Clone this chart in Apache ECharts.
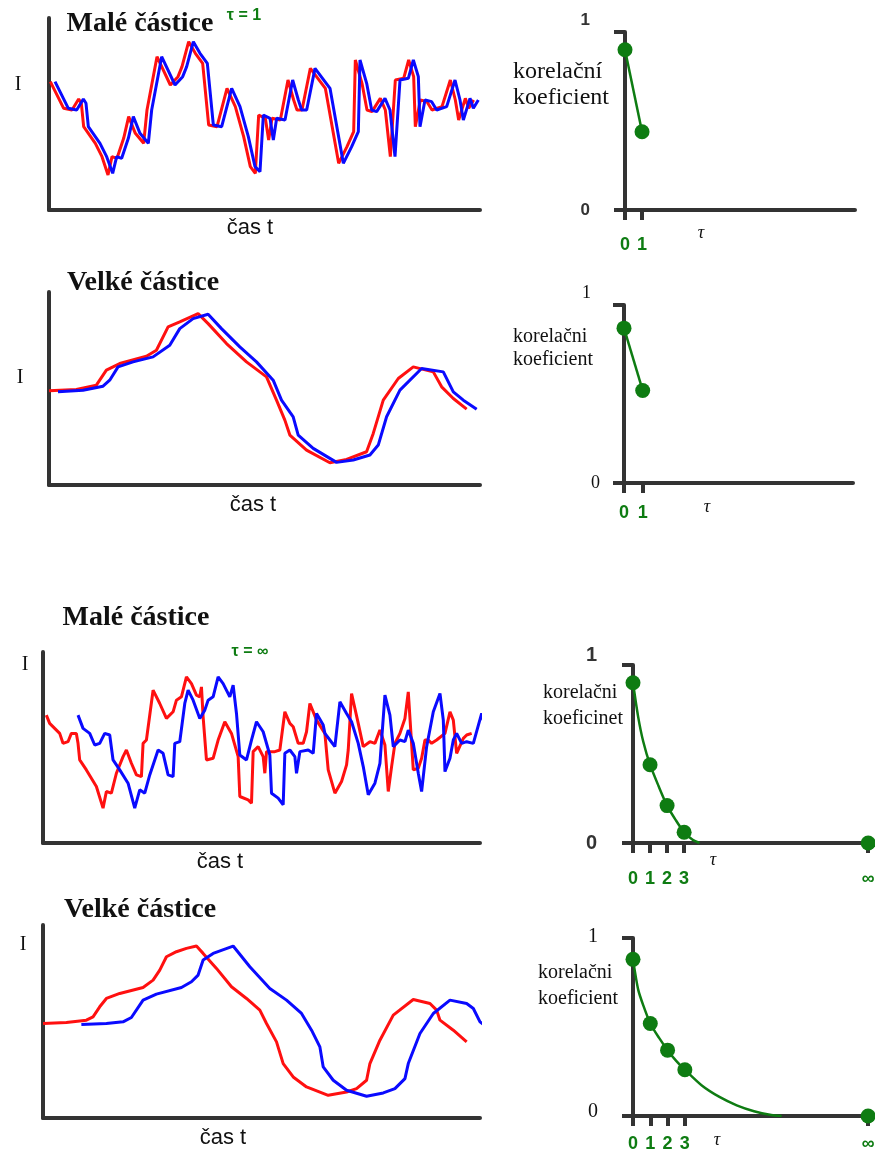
<!DOCTYPE html>
<html>
<head>
<meta charset="utf-8">
<title>korelace</title>
<script src="https://cdn.jsdelivr.net/npm/echarts@6/dist/echarts.min.js"></script>
<style>
  html, body { margin: 0; padding: 0; background: #fff; }
  #main { width: 875px; height: 1153px; }
</style>
</head>
<body>
<div id="main"></div>
<script>
// ---- data (time in arbitrary samples, I in arbitrary units) ----
// Malé částice, tau = 1
var small1Blue = [[18,385],[58,305],[83,300],[103,333],[111,320],[118,250],[153,200],[173,160],[191,110],[203,160],[218,155],[238,215],[253,280],[273,230],[298,200],[308,300],[338,460],[378,375],[401,400],[413,430],[433,505],[453,470],[475,440],[493,255],[518,250],[548,365],[573,310],[598,220],[618,130],[633,115],[643,285],[663,275],[673,210],[683,275],[708,270],[731,390],[748,330],[758,300],[773,300],[798,425],[843,365],[883,140],[908,190],[928,235],[933,450],[953,380],[968,300],[983,295],[1008,335],[1023,300],[1038,160],[1053,390],[1078,395],[1093,450],[1108,400],[1113,250],[1128,330],[1148,325],[1163,300],[1193,310],[1218,390],[1233,330],[1243,270],[1263,335],[1273,305],[1288,330]];
var small1Red = [[4,385],[44,305],[69,300],[89,333],[97,320],[104,250],[139,200],[159,160],[177,105],[189,160],[204,155],[224,215],[239,280],[259,230],[284,200],[294,300],[324,460],[364,375],[387,400],[399,430],[419,505],[439,470],[461,440],[479,255],[504,250],[534,365],[559,310],[584,220],[604,130],[619,110],[629,285],[649,275],[659,210],[669,275],[694,270],[717,390],[734,330],[744,300],[759,300],[784,425],[829,365],[869,140],[894,190],[914,235],[919,450],[939,380],[954,300],[969,295],[994,335],[1009,300],[1024,160],[1039,390],[1064,395],[1079,450],[1094,400],[1099,250],[1114,330],[1134,325],[1149,300],[1179,310],[1204,390],[1219,330],[1229,270],[1249,335],[1259,305],[1274,330]];

// Velké částice, tau = 1
var big1Red = [[0,283],[82,287],[142,300],[172,345],[212,365],[292,387],[322,405],[357,475],[392,490],[447,515],[477,485],[532,425],[592,370],[652,325],[682,255],[707,195],[722,150],[772,105],[842,67],[892,77],[952,100],[972,155],[1002,255],[1047,320],[1092,355],[1152,340],[1177,295],[1212,260],[1252,228]];
var big1Blue = [[27,280],[102,285],[162,297],[182,315],[207,355],[252,370],[312,385],[362,420],[392,470],[432,500],[477,513],[517,470],[572,415],[622,370],[672,315],[697,255],[732,205],[747,150],[792,110],[862,68],[912,75],[962,90],[987,120],[1012,205],[1052,285],[1117,350],[1182,340],[1212,280],[1242,255],[1282,228]];

// Malé částice, tau = inf
var smallInfRed = [[10,385],[20,360],[50,330],[60,300],[75,305],[85,330],[100,330],[105,300],[110,250],[130,220],[160,170],[180,105],[190,155],[205,150],[220,210],[240,260],[250,280],[265,240],[280,205],[295,200],[300,300],[310,310],[330,460],[350,420],[370,375],[390,395],[400,430],[415,440],[430,500],[445,480],[460,445],[470,440],[475,470],[480,380],[490,250],[510,255],[525,310],[545,365],[565,330],[585,260],[590,140],[615,130],[625,120],[630,275],[645,290],[660,260],[665,210],[670,275],[695,275],[710,280],[725,395],[740,360],[750,350],[765,300],[780,300],[790,335],[800,420],[820,370],[845,330],[855,220],[875,150],[895,185],[910,235],[915,280],[925,450],[945,360],[960,290],[980,305],[995,300],[1010,340],[1025,295],[1035,155],[1045,230],[1055,300],[1070,330],[1085,375],[1095,455],[1110,220],[1125,225],[1135,255],[1145,310],[1155,310],[1165,300],[1180,310],[1205,330],[1220,395],[1230,370],[1240,270],[1260,315],[1270,325],[1285,330]];
var smallInfBlue = [[105,385],[120,345],[140,330],[155,295],[170,300],[185,330],[200,325],[210,250],[230,220],[255,180],[275,105],[290,160],[305,150],[320,205],[345,280],[360,270],[375,205],[390,200],[395,300],[410,305],[425,420],[435,460],[450,430],[470,375],[485,400],[495,430],[510,440],[525,500],[540,480],[560,440],[570,475],[580,390],[590,265],[610,250],[625,310],[640,365],[660,335],[680,265],[685,150],[705,135],[720,115],[725,270],[740,280],[755,260],[760,210],[770,275],[795,280],[810,270],[820,390],[840,355],[845,330],[860,310],[875,290],[890,425],[910,390],[925,365],[945,300],[960,230],[975,145],[995,180],[1010,240],[1025,445],[1040,385],[1050,290],[1070,310],[1085,305],[1095,340],[1110,300],[1125,210],[1135,155],[1150,290],[1170,395],[1190,450],[1200,370],[1205,215],[1220,255],[1230,310],[1240,330],[1255,300],[1270,305],[1290,300],[1315,390],[1330,330],[1340,270],[1355,320],[1360,330],[1370,310],[1385,325]];

// Velké částice, tau = inf
var bigInfRed = [[0,283],[70,286],[130,293],[150,303],[170,333],[190,358],[230,373],[300,391],[330,413],[350,443],[370,483],[400,498],[430,508],[460,515],[480,493],[520,448],[565,393],[610,358],[650,323],[670,283],[700,228],[720,163],[750,123],[790,93],[855,68],[910,78],[940,88],[970,113],[980,163],[1010,233],[1050,308],[1110,355],[1160,343],[1180,323],[1190,293],[1230,263],[1270,228]];
var bigInfBlue = [[115,280],[190,283],[240,288],[265,301],[300,353],[340,371],[415,391],[445,408],[465,428],[480,473],[510,493],[570,515],[620,453],[680,388],[730,353],[775,313],[805,263],[830,213],[840,153],[870,113],[910,83],[970,65],[1020,75],[1055,88],[1085,118],[1095,163],[1130,253],[1170,313],[1220,353],[1270,343],[1290,328],[1310,288],[1350,258],[1385,233]];

// correlation coefficient vs tau (13.8 / 13.6 stands for infinity)
var corr1Small = [[0,0.90],[1,0.44]];
var corr1Big = [[0,0.87],[1,0.52]];
var corrInfSmallDots = [[0,0.90],[1,0.44],[2,0.21],[3,0.06],[13.8,0]];
var corrInfSmallCurve = [[0,0.90],[0.3,0.71],[0.6,0.57],[1,0.44],[1.5,0.32],[2,0.21],[2.5,0.13],[3,0.06],[3.5,0.018],[3.9,0]];
var corrInfBigDots = [[0,0.88],[1,0.52],[2,0.37],[3,0.26],[13.6,0]];
var corrInfBigCurve = [[0,0.88],[0.3,0.71],[0.6,0.62],[1,0.52],[1.5,0.44],[2,0.37],[2.5,0.31],[3,0.26],[4,0.17],[5,0.107],[6,0.06],[7,0.027],[8,0.006],[8.6,0]];

var tauTicksShort = [0, 1];
var tauTicksSmallInf = [0, 1, 2, 3, 13.8];
var tauTicksBigInf = [0, 1, 2, 3, 13.6];

// ---- chart ----
var AX = '#333';
var GREEN = '#0e7c12';
var RED = '#ff1010';
var BLUE = '#0a0aff';
var SERIF = '"Liberation Serif", "DejaVu Serif", serif';
var SANS = '"Liberation Sans", Arial, sans-serif';

var grids = [
  {left: 49, top: 18, width: 431, height: 192},
  {left: 625, top: 32, width: 230, height: 178},
  {left: 49, top: 292, width: 431, height: 193},
  {left: 624, top: 305, width: 229, height: 178},
  {left: 43, top: 652, width: 437, height: 191},
  {left: 633, top: 665, width: 242, height: 178},
  {left: 43, top: 925, width: 437, height: 193},
  {left: 633, top: 938, width: 242, height: 178}
];
grids.forEach(function (g) { g.outerBoundsMode = 'none'; g.containLabel = false; });

var xAxes = [], yAxes = [], series = [];

function timePanel(i, xmax, ymax, red, blue) {
  xAxes.push({
    gridIndex: i, type: 'value', min: 0, max: xmax,
    axisLine: {show: true, lineStyle: {color: AX, width: 4}},
    axisTick: {show: false}, axisLabel: {show: false}, splitLine: {show: false}
  });
  yAxes.push({
    gridIndex: i, type: 'value', min: 0, max: ymax,
    axisLine: {show: true, lineStyle: {color: AX, width: 4}},
    axisTick: {show: false}, axisLabel: {show: false}, splitLine: {show: false}
  });
  [[red, RED], [blue, BLUE]].forEach(function (s) {
    series.push({
      type: 'line', xAxisIndex: i, yAxisIndex: i, data: s[0],
      symbol: 'none', clip: false, animation: false,
      lineStyle: {color: s[1], width: 3}
    });
  });
}

function corrPanel(i, xmax, ticks, xMargin, yl) {
  xAxes.push({
    gridIndex: i, type: 'value', min: 0, max: xmax,
    axisLine: {show: true, onZero: false, lineStyle: {color: AX, width: 4}},
    axisTick: {show: true, customValues: ticks, length: 10, lineStyle: {color: AX, width: 4}},
    axisLabel: {
      show: true, customValues: ticks, margin: xMargin,
      color: GREEN, fontWeight: 'bold', fontSize: 18, fontFamily: SANS,
      formatter: function (v) { return v > 10 ? '∞' : String(v); }
    },
    splitLine: {show: false}
  });
  yAxes.push({
    gridIndex: i, type: 'value', min: 0, max: 1,
    axisLine: {show: true, onZero: false, lineStyle: {color: AX, width: 4}},
    axisTick: {show: true, customValues: [0, 1], length: 11, lineStyle: {color: AX, width: 4}},
    axisLabel: {
      show: true, customValues: [0, 1], margin: yl.margin,
      formatter: function (v) { return v === 1 ? '{one|1}' : '{zero|0}'; },
      rich: {
        one: {padding: yl.onePad, fontFamily: yl.font, fontWeight: yl.weight, fontSize: yl.size, color: yl.color},
        zero: {padding: yl.zeroPad, fontFamily: yl.font, fontWeight: yl.weight, fontSize: yl.size, color: yl.color}
      }
    },
    splitLine: {show: false}
  });
}

function corrSeries(i, curve, dots, smooth) {
  series.push({
    type: 'line', xAxisIndex: i, yAxisIndex: i, data: curve,
    smooth: smooth,
    symbol: smooth ? 'none' : 'circle', symbolSize: 15,
    itemStyle: {color: GREEN}, lineStyle: {color: GREEN, width: 2.5},
    z: 3, animation: false
  });
  if (dots) {
    series.push({
      type: 'scatter', xAxisIndex: i, yAxisIndex: i, data: dots,
      symbolSize: 15, itemStyle: {color: GREEN, opacity: 1}, z: 4,
      clip: false, animation: false
    });
  }
}

var sansNum = {font: SANS, weight: 'bold', color: '#333'};
var serifNum = {font: SERIF, weight: 'normal', color: '#111'};

timePanel(0, 1293, 576, small1Red, small1Blue);
corrPanel(1, 13.5, tauTicksShort, 26, Object.assign({margin: 35, size: 17, onePad: [0, 0, 24, 0], zeroPad: [0, 0, 0, 0]}, sansNum));
corrSeries(1, corr1Small, null, false);

timePanel(2, 1292, 580, big1Red, big1Blue);
corrPanel(3, 12.25, tauTicksShort, 21, Object.assign({margin: 24, size: 18, onePad: [0, 9, 24, 0], zeroPad: [0, 0, 0, 0]}, serifNum));
corrSeries(3, corr1Big, null, false);

timePanel(4, 1310, 575, smallInfRed, smallInfBlue);
corrPanel(5, 14.2, tauTicksSmallInf, 27, Object.assign({margin: 36, size: 20, onePad: [0, 0, 20, 0], zeroPad: [0, 0, 0, 0]}, sansNum));
corrSeries(5, corrInfSmallCurve, corrInfSmallDots, 0.25);

timePanel(6, 1310, 578, bigInfRed, bigInfBlue);
corrPanel(7, 14, tauTicksBigInf, 19, Object.assign({margin: 35, size: 20, onePad: [0, 0, 2, 0], zeroPad: [0, 0, 8, 0]}, serifNum));
corrSeries(7, corrInfBigCurve, corrInfBigDots, 0.25);

function txt(x, y, s, font, color, align) {
  return {
    type: 'text', x: x, y: y, z: 10,
    style: {
      text: s, font: font, fill: color || '#111',
      align: align || 'center', verticalAlign: 'middle',
      textAlign: align || 'center', textVerticalAlign: 'middle'
    }
  };
}

var texts = [
  // titles
  txt(140, 24, 'Malé částice', 'bold 28px ' + SERIF),
  txt(244, 16, 'τ = 1', 'bold 16px ' + SANS, GREEN),
  txt(143, 283, 'Velké částice', 'bold 28px ' + SERIF),
  txt(136, 618, 'Malé částice', 'bold 28px ' + SERIF),
  txt(250, 652, 'τ = ∞', 'bold 16px ' + SANS, GREEN),
  txt(140, 910, 'Velké částice', 'bold 28px ' + SERIF),
  // I labels
  txt(18, 85, 'I', '20px ' + SERIF),
  txt(20, 378, 'I', '20px ' + SERIF),
  txt(25, 665, 'I', '20px ' + SERIF),
  txt(23, 945, 'I', '20px ' + SERIF),
  // time labels
  txt(250, 228, 'čas t', '22px ' + SANS),
  txt(253, 505, 'čas t', '22px ' + SANS),
  txt(220, 862, 'čas t', '22px ' + SANS),
  txt(223, 1138, 'čas t', '22px ' + SANS),
  // correlation labels
  txt(513, 72, 'korelační', '24px ' + SERIF, '#111', 'left'),
  txt(513, 98, 'koeficient', '24px ' + SERIF, '#111', 'left'),
  txt(513, 337, 'korelačni', '20px ' + SERIF, '#111', 'left'),
  txt(513, 360, 'koeficient', '20px ' + SERIF, '#111', 'left'),
  txt(543, 693, 'korelačni', '20px ' + SERIF, '#111', 'left'),
  txt(543, 719, 'koeficinet', '20px ' + SERIF, '#111', 'left'),
  txt(538, 973, 'korelačni', '20px ' + SERIF, '#111', 'left'),
  txt(538, 999, 'koeficient', '20px ' + SERIF, '#111', 'left'),
  // tau
  txt(701, 233, 'τ', 'italic 18px ' + SERIF),
  txt(707, 507, 'τ', 'italic 18px ' + SERIF),
  txt(713, 860, 'τ', 'italic 18px ' + SERIF),
  txt(717, 1140, 'τ', 'italic 18px ' + SERIF)
];

var chart = echarts.init(document.getElementById('main'));
chart.setOption({
  backgroundColor: '#fff',
  animation: false,
  grid: grids,
  xAxis: xAxes,
  yAxis: yAxes,
  series: series,
  graphic: texts
});
window.onresize = function () { chart.resize(); };
</script>
</body>
</html>
